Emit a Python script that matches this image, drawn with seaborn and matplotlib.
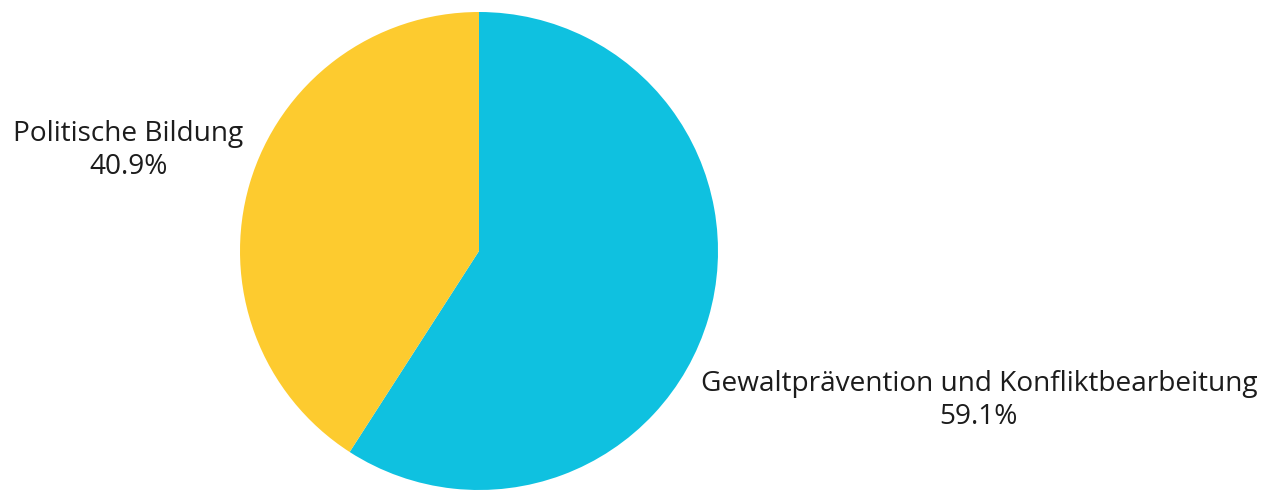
"""Pie chart: Anteil der Themenbereiche."""

import matplotlib
matplotlib.use("Agg")
import matplotlib.pyplot as plt
import numpy as np
import seaborn as sns

# Data
categories = ["Gewaltprävention und Konfliktbearbeitung", "Politische Bildung"]
shares = [59.1, 40.9]
colors = ["#0FC1E0", "#FDCB2F"]
label_dist = [2.18, 1.53]

sns.set_style("white")
plt.rcParams["font.family"] = ["Open Sans", "DejaVu Sans"]

W, H = 1276, 490
fig = plt.figure(figsize=(W / 100, H / 100), dpi=100)
cx, cy, r = 479, 251, 239
ax = fig.add_axes([(cx - r) / W, (H - cy - r) / H, 2 * r / W, 2 * r / H])

wedges, _ = ax.pie(
    shares,
    colors=colors,
    startangle=90,
    counterclock=False,
    radius=1,
    wedgeprops={"linewidth": 0},
)
ax.set_xlim(-1, 1)
ax.set_ylim(-1, 1)
ax.set_aspect("equal")
ax.axis("off")

# Labels placed along each wedge's mid angle
for w, name, val, d in zip(wedges, categories, shares, label_dist):
    mid = np.deg2rad((w.theta1 + w.theta2) / 2)
    ax.text(
        d * np.cos(mid), d * np.sin(mid) - 0.01,
        f"{name}\n{val:.1f}%",
        ha="center", va="center",
        fontsize=20.2, color="#1c1c1c", linespacing=1.22,
        clip_on=False,
    )

fig.savefig("out.png", dpi=100)
plt.close(fig)
